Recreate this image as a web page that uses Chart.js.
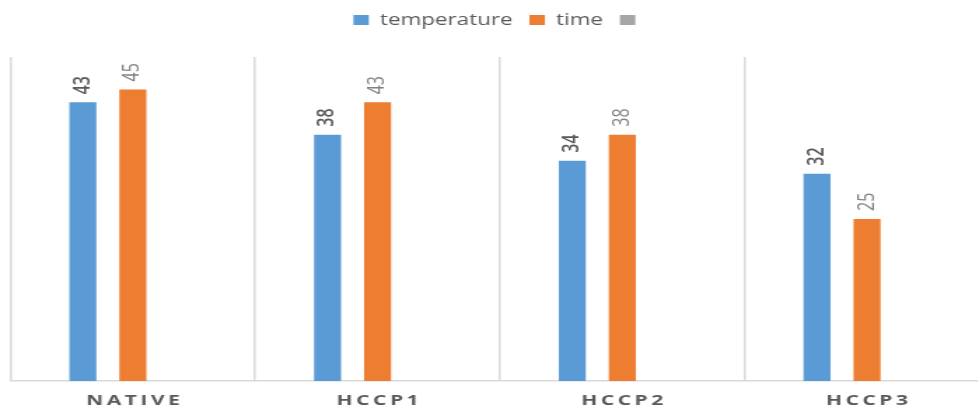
<!DOCTYPE html>
<html>
<head>
<meta charset="utf-8">
<script src="https://cdn.jsdelivr.net/npm/chart.js@4.4.0/dist/chart.umd.min.js"></script>
<style>
  html, body { margin: 0; padding: 0; background: #fff; overflow: hidden; }
  #wrap { width: 978px; height: 409px; overflow: hidden; }
</style>
</head>
<body>
<!-- the reference is a stretched picture: draw narrow, show wide -->
<div id="wrap"><canvas id="chart" width="714" height="409" style="width:1000px;height:409px"></canvas></div>
<script>
/* ─── Data ───────────────────────────────────────────────────── */
const CATEGORIES  = ['NATIVE', 'HCCP1', 'HCCP2', 'HCCP3'];
const TEMPERATURE = [43, 38, 34, 32];
const TIME        = [45, 43, 38, 25];
const BLANK       = [null, null, null, null];

/* ─── Style ──────────────────────────────────────────────────── */
const FONT      = "'Open Sans', sans-serif";
const TEXT_GREY = '#595959';
const GRID_GREY = '#d9d9d9';
const VALUE_STYLE = [
  { font: `600 16px ${FONT}`, color: '#595959' },
  { font: `16px ${FONT}`,     color: '#808080' },
  null,
];

/* ─── Plugins ────────────────────────────────────────────────── */
// leave some air between the legend and the plot
const legendGap = {
  id: 'legendGap',
  beforeInit(chart) {
    const fit = chart.legend.fit;
    chart.legend.fit = function () {
      fit.call(this);
      this.height += 19;
    };
  },
};

// rotated value labels sitting on top of each bar
const barValues = {
  id: 'barValues',
  afterDatasetsDraw(chart) {
    const ctx = chart.ctx;
    chart.data.datasets.forEach((ds, i) => {
      const style = VALUE_STYLE[i];
      if (!style) return;
      chart.getDatasetMeta(i).data.forEach((bar, j) => {
        const v = ds.data[j];
        if (v == null) return;
        ctx.save();
        ctx.translate(bar.x, bar.y - 8);
        ctx.rotate(-Math.PI / 2);
        ctx.font = style.font;
        ctx.fillStyle = style.color;
        ctx.textAlign = 'left';
        ctx.textBaseline = 'middle';
        ctx.fillText(String(v), 0, 0);
        ctx.restore();
      });
    });
  },
};

// letter-spaced category names under the axis
const spacedCategories = {
  id: 'spacedCategories',
  afterDraw(chart) {
    const ctx = chart.ctx;
    const xs = chart.scales.x;
    ctx.save();
    ctx.font = `bold 15px ${FONT}`;
    ctx.fillStyle = TEXT_GREY;
    ctx.textAlign = 'center';
    ctx.textBaseline = 'middle';
    ctx.letterSpacing = '2.5px';
    CATEGORIES.forEach((name, i) => {
      ctx.fillText(name, xs.getPixelForValue(i) + 1.25, chart.chartArea.bottom + 20);
    });
    ctx.restore();
  },
};

/* ─── Chart ──────────────────────────────────────────────────── */
new Chart(document.getElementById('chart'), {
  type: 'bar',
  data: {
    labels: CATEGORIES,
    datasets: [
      { label: 'temperature', data: TEMPERATURE, backgroundColor: '#5b9bd5' },
      { label: 'time',        data: TIME,        backgroundColor: '#ed7d31' },
      { label: '',            data: BLANK,       backgroundColor: '#a5a5a5' },
    ],
  },
  options: {
    responsive: false,
    devicePixelRatio: 1,
    animation: false,
    layout: { padding: { left: 7.5, right: 7.6, top: 0, bottom: 0 } },
    datasets: {
      bar: { barPercentage: 0.54, categoryPercentage: 0.613 },
    },
    scales: {
      x: {
        grid: { offset: true, color: GRID_GREY, lineWidth: 1.5, drawTicks: false },
        border: { display: true, color: GRID_GREY, width: 1.5 },
        ticks: { display: false },
        afterFit: (s) => { s.height = 28; },
      },
      y: { display: false, min: 0, max: 50 },
    },
    plugins: {
      legend: {
        position: 'top',
        labels: {
          color: TEXT_GREY,
          font: { family: FONT, size: 16 },
          boxWidth: 11,
          boxHeight: 10,
          padding: 12,
        },
      },
      tooltip: { enabled: false },
    },
  },
  plugins: [legendGap, barValues, spacedCategories],
});
</script>
</body>
</html>
